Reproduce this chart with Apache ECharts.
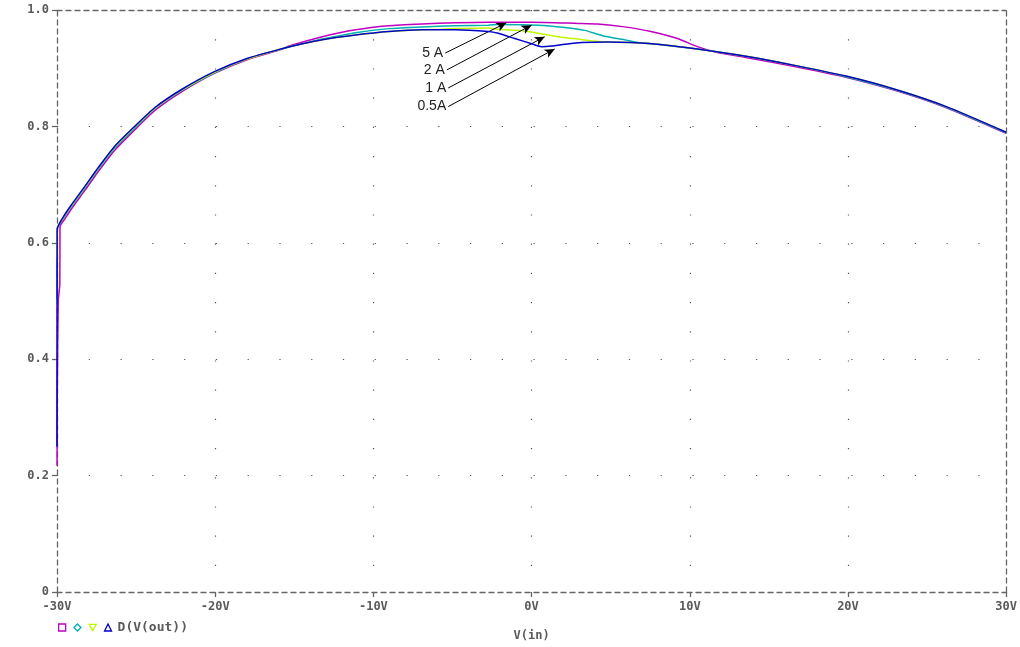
<!DOCTYPE html>
<html>
<head>
<meta charset="utf-8">
<script src="https://cdn.jsdelivr.net/npm/echarts@6/dist/echarts.min.js"></script>
<style>
html,body{margin:0;padding:0;background:#fff;overflow:hidden;}
#chart{width:1020px;height:647px;}
</style>
</head>
<body>
<div id="chart"></div>
<script>
// ---- data ----
var xTicks = [-30, -20, -10, 0, 10, 20, 30];
var yTicks = [0, 0.2, 0.4, 0.6, 0.8, 1.0];

var vin5A = [-30, -29.98, -29.92, -29.82, -29.81, -29.5, -29.07, -28.24, -27.40, -26.35, -25.09, -23.83, -22.15, -20.05, -17.95, -15.85, -15.33, -13.23, -11.13, -9.03, -6.94, -4.83, -2.74, 0, 2.93, 4.19, 5.87, 7.55, 9.22, 10.48, 11.74, 13.63, 16.78, 19.93, 23.07, 26.22, 30];
var out5A = [0.217, 0.35, 0.50, 0.53, 0.628, 0.641, 0.659, 0.690, 0.722, 0.759, 0.794, 0.827, 0.859, 0.891, 0.915, 0.932, 0.938, 0.954, 0.966, 0.973, 0.976, 0.978, 0.979, 0.979, 0.977, 0.976, 0.971, 0.963, 0.951, 0.937, 0.927, 0.918, 0.902, 0.884, 0.861, 0.832, 0.788];

var vin2A = [-30, -29.99, -29.97, -29.5, -29.07, -28.24, -27.40, -26.35, -25.09, -23.83, -22.15, -20.05, -17.95, -15.85, -14.49, -13.23, -11.13, -9.03, -6.94, -4.83, -2.74, -2.11, 0.42, 2.1, 3.36, 4.62, 5.87, 6.71, 8.39, 10.48, 13.63, 16.78, 19.93, 23.07, 26.22, 30];
var out2A = [0.503, 0.60, 0.625, 0.646, 0.663, 0.694, 0.726, 0.763, 0.797, 0.830, 0.861, 0.892, 0.916, 0.933, 0.942, 0.950, 0.961, 0.968, 0.971, 0.973, 0.974, 0.975, 0.974, 0.970, 0.965, 0.955, 0.949, 0.944, 0.940, 0.933, 0.920, 0.904, 0.885, 0.862, 0.833, 0.789];

var vin1A = [-30, -29.99, -29.5, -29.07, -28.24, -27.40, -26.35, -25.09, -23.83, -22.15, -20.05, -17.95, -15.85, -14.49, -13.23, -11.13, -9.03, -6.94, -5.7, -4.83, -2.74, -2.11, -0.85, 0.42, 1.68, 2.93, 4.19, 4.83, 6.28, 8.39, 10.48, 13.63, 16.78, 19.93, 23.07, 26.22, 30];
var out1A = [0.572, 0.624, 0.648, 0.665, 0.696, 0.728, 0.765, 0.799, 0.831, 0.862, 0.893, 0.916, 0.933, 0.942, 0.949, 0.957, 0.963, 0.966, 0.967, 0.968, 0.969, 0.967, 0.965, 0.960, 0.954, 0.950, 0.946, 0.945, 0.944, 0.940, 0.933, 0.920, 0.904, 0.886, 0.863, 0.834, 0.790];

var vin05A = [-30, -29.99, -29.5, -29.07, -28.24, -27.40, -26.35, -25.09, -23.83, -22.15, -20.05, -17.95, -15.85, -14.49, -13.23, -11.13, -9.03, -6.94, -4.83, -2.74, -2.11, -1.06, 0, 0.63, 1.26, 2.10, 3.15, 4.83, 6.28, 8.39, 10.48, 13.63, 16.78, 19.93, 23.07, 26.22, 30];
var out05A = [0.25, 0.623, 0.649, 0.666, 0.697, 0.729, 0.766, 0.800, 0.832, 0.863, 0.894, 0.917, 0.933, 0.942, 0.949, 0.957, 0.963, 0.966, 0.966, 0.963, 0.960, 0.951, 0.942, 0.937, 0.938, 0.941, 0.944, 0.945, 0.944, 0.940, 0.933, 0.920, 0.904, 0.886, 0.863, 0.834, 0.790];

// annotations: label, start point, arrow tip (data coordinates)
var annoLabels = ['5 A', '2 A', '1 A', '0.5A'];
var annoStart = [[-5.46, 0.926], [-5.36, 0.897], [-5.27, 0.866], [-5.27, 0.834]];
var annoTip = [[-1.59, 0.978], [0.0, 0.974], [0.83, 0.954], [1.46, 0.933]];

var seriesNames = ['5 A', '2 A', '1 A', '0.5A'];
var seriesColors = ['#c000c0', '#00b0b0', '#c0f800', '#0000c8'];
var legendIcons = ['rect', 'diamond', 'path://M0,0L10,0L5,9Z', 'triangle'];
var legendText = 'D(V(out))';
var xName = 'V(in)';

function pairs(xs, ys) { return xs.map(function (x, i) { return [x, ys[i]]; }); }
var allData = [pairs(vin5A, out5A), pairs(vin2A, out2A), pairs(vin1A, out1A), pairs(vin05A, out05A)];

var grey = '#5a5a5a';
var mono = "'DejaVu Sans Mono', 'Liberation Mono', monospace";

var series = seriesNames.map(function (n, i) {
  return {
    name: n,
    type: 'line',
    data: allData[i],
    showSymbol: false,
    symbol: 'none',
    smooth: 0.2,
    lineStyle: { color: seriesColors[i], width: 1.5 },
    itemStyle: { color: seriesColors[i] },
    z: 2 + i
  };
});

series[3].markLine = {
  silent: true,
  symbol: ['none', 'arrow'],
  symbolSize: [7, 10],
  lineStyle: { color: '#000', width: 1, type: 'solid' },
  label: { show: false },
  data: annoLabels.map(function (l, i) {
    return [{ coord: annoStart[i] }, { coord: annoTip[i] }];
  }),
  animation: false
};
series[3].markPoint = {
  silent: true,
  symbol: 'circle',
  symbolSize: 0,
  label: {
    show: true,
    position: 'left',
    distance: 2,
    color: '#222',
    fontFamily: "'Liberation Sans', Arial, sans-serif",
    fontSize: 14,
    formatter: function (p) { return p.name; }
  },
  data: annoLabels.map(function (l, i) {
    return { name: l, coord: annoStart[i] };
  }),
  animation: false
};

var chart = echarts.init(document.getElementById('chart'));
chart.setOption({
  animation: false,
  backgroundColor: '#fff',
  grid: { left: 57, right: 10, top: 10, bottom: 53, containLabel: false },
  legend: {
    left: 58,
    top: 621,
    padding: 0,
    itemWidth: 7,
    itemHeight: 7,
    itemGap: 7,
    selectedMode: false,
    textStyle: { color: grey, fontFamily: mono, fontSize: 13, fontWeight: 'bold', padding: [0, 0, 0, 1] },
    formatter: function (name) { return name === seriesNames[3] ? legendText : ''; },
    data: seriesNames.map(function (n, i) {
      return {
        name: n,
        icon: legendIcons[i],
        itemStyle: { color: 'transparent', borderColor: seriesColors[i], borderWidth: 1.3 }
      };
    })
  },
  xAxis: [{
    type: 'value',
    min: -30, max: 30, interval: 10,
    name: xName,
    nameLocation: 'middle',
    nameGap: 38,
    nameTextStyle: { color: grey, fontFamily: mono, fontSize: 12, fontWeight: 'bold' },
    axisLine: { show: true, onZero: false, lineStyle: { color: '#666', width: 1.3, type: [5, 4] } },
    axisTick: { show: true, length: 5, lineStyle: { color: '#666', width: 1.3 } },
    axisLabel: {
      color: grey, fontFamily: mono, fontSize: 12, fontWeight: 'bold', margin: 9,
      formatter: function (v) { return v + 'V'; }
    },
    splitLine: {
      show: true, showMinLine: false, showMaxLine: false,
      lineStyle: { color: '#555', width: 1.2, type: [1.2, 28] }
    }
  }, {
    type: 'value',
    position: 'top',
    min: -30, max: 30, interval: 10,
    axisLine: { show: true, onZero: false, lineStyle: { color: '#666', width: 1.3, type: [5, 4] } },
    axisTick: { show: false },
    axisLabel: { show: false },
    splitLine: { show: false }
  }],
  yAxis: [{
    type: 'value',
    min: 0, max: 1, interval: 0.2,
    axisLine: { show: true, onZero: false, lineStyle: { color: '#666', width: 1.3, type: [5, 4] } },
    axisTick: { show: true, length: 5, lineStyle: { color: '#666', width: 1.3 } },
    axisLabel: {
      color: grey, fontFamily: mono, fontSize: 12, fontWeight: 'bold', margin: 8,
      formatter: function (v) { return v === 0 ? '0' : v.toFixed(1); }
    },
    splitLine: {
      show: true, showMinLine: false, showMaxLine: false,
      lineStyle: { color: '#555', width: 1.2, type: [1.2, 30.57] }
    }
  }, {
    type: 'value',
    position: 'right',
    min: 0, max: 1, interval: 0.2,
    axisLine: { show: true, onZero: false, lineStyle: { color: '#666', width: 1.3, type: [5, 4] } },
    axisTick: { show: false },
    axisLabel: { show: false },
    splitLine: { show: false }
  }],
  series: series
});
</script>
</body>
</html>
